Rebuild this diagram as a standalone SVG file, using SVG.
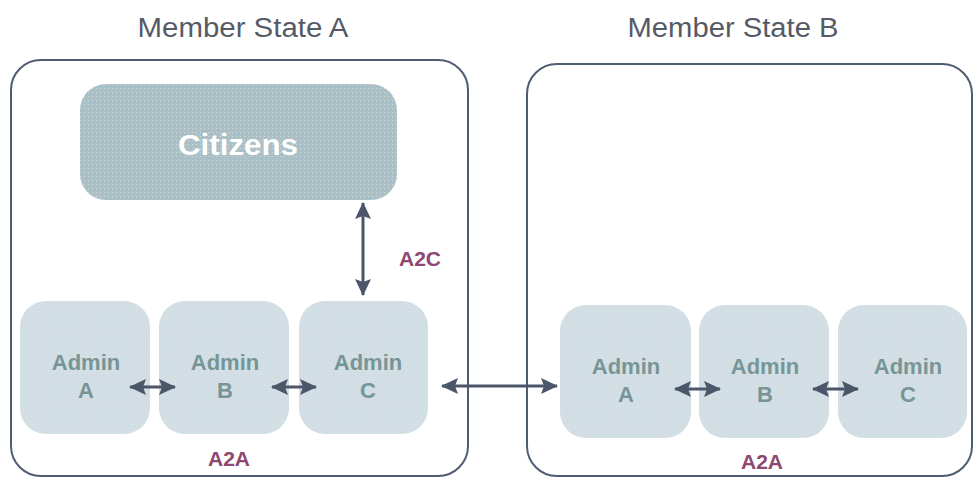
<svg xmlns="http://www.w3.org/2000/svg" width="973" height="479" viewBox="0 0 973 479">
<style>
.title{font-family:"Liberation Sans",Arial,sans-serif;font-size:27px;fill:#555b66;text-anchor:middle}
.state{fill:#fff;stroke:#4f5d73;stroke-width:2}
.admin{fill:url(#adm)}
.atext{font-family:"Liberation Sans",Arial,sans-serif;font-size:22px;font-weight:bold;fill:#779596;text-anchor:middle}
.lbl{font-family:"Liberation Sans",Arial,sans-serif;font-size:21px;font-weight:bold;fill:#8e4770;text-anchor:middle}
.conn{stroke:#4b566a;stroke-width:3;fill:none}
</style>
<defs>
<pattern id="adm" width="3" height="3" patternUnits="userSpaceOnUse">
<rect width="3" height="3" fill="#d3dfe4"/>
<rect width="1" height="1" fill="#c9dbe3"/>
</pattern>
<pattern id="cit" width="4" height="4" patternUnits="userSpaceOnUse">
<rect width="4" height="4" fill="#a9c0c9"/>
<rect width="1" height="1" fill="#d6d9cf"/>
</pattern>
<marker id="ah" viewBox="0 0 17 16" refX="16" refY="8" markerWidth="17" markerHeight="16" markerUnits="userSpaceOnUse" orient="auto-start-reverse">
<path d="M0,0 L17,8 L0,16 L3,8 z" fill="#4b566a"/>
</marker>
</defs>
<text class="title" x="243" y="37" textLength="211" lengthAdjust="spacingAndGlyphs">Member State A</text>
<text class="title" x="733" y="37" textLength="211" lengthAdjust="spacingAndGlyphs">Member State B</text>
<g id="stateA"><rect class="state" x="11" y="60" width="457" height="416" rx="30"/></g>
<g id="stateB"><rect class="state" x="527" y="64" width="445" height="412" rx="30"/></g>
<g id="citizens">
<rect x="80" y="84" width="317" height="116" rx="26" fill="url(#cit)"/>
<text x="238" y="155" font-family="Liberation Sans,Arial,sans-serif" font-size="29" font-weight="bold" fill="#ffffff" text-anchor="middle" textLength="120" lengthAdjust="spacingAndGlyphs">Citizens</text>
</g>
<g id="adminA1"><rect class="admin" x="20" y="301" width="130" height="133" rx="26"/><text class="atext" x="86" y="370">Admin</text><text class="atext" x="86" y="398">A</text></g>
<g id="adminB1"><rect class="admin" x="159" y="301" width="130" height="133" rx="26"/><text class="atext" x="225" y="370">Admin</text><text class="atext" x="225" y="398">B</text></g>
<g id="adminC1"><rect class="admin" x="299" y="301" width="129" height="133" rx="26"/><text class="atext" x="368" y="370">Admin</text><text class="atext" x="368" y="398">C</text></g>
<g id="adminA2"><rect class="admin" x="560" y="305" width="131" height="133" rx="26"/><text class="atext" x="626" y="374">Admin</text><text class="atext" x="626" y="402">A</text></g>
<g id="adminB2"><rect class="admin" x="699" y="305" width="130" height="133" rx="26"/><text class="atext" x="765" y="374">Admin</text><text class="atext" x="765" y="402">B</text></g>
<g id="adminC2"><rect class="admin" x="838" y="305" width="129" height="133" rx="26"/><text class="atext" x="908" y="374">Admin</text><text class="atext" x="908" y="402">C</text></g>
<g id="connectors">
<line class="conn" x1="363" y1="203" x2="363" y2="295" marker-start="url(#ah)" marker-end="url(#ah)"/>
<line class="conn" x1="130" y1="387" x2="175" y2="387" marker-start="url(#ah)" marker-end="url(#ah)"/>
<line class="conn" x1="272" y1="387" x2="316" y2="387" marker-start="url(#ah)" marker-end="url(#ah)"/>
<line class="conn" x1="442" y1="386" x2="557" y2="386" marker-start="url(#ah)" marker-end="url(#ah)"/>
<line class="conn" x1="675" y1="389" x2="720" y2="389" marker-start="url(#ah)" marker-end="url(#ah)"/>
<line class="conn" x1="813" y1="389" x2="858" y2="389" marker-start="url(#ah)" marker-end="url(#ah)"/>
</g>
<text class="lbl" x="420" y="266">A2C</text>
<text class="lbl" x="229" y="466">A2A</text>
<text class="lbl" x="762" y="469">A2A</text>
</svg>
